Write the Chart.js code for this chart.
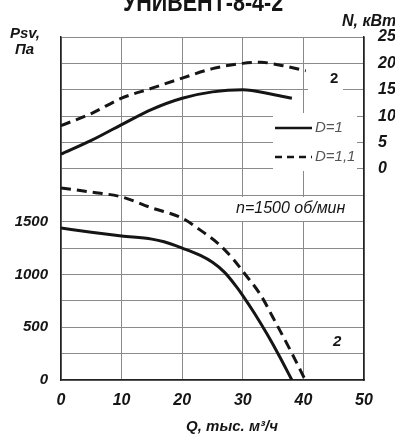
<!DOCTYPE html>
<html>
<head>
<meta charset="utf-8">
<script src="https://cdn.jsdelivr.net/npm/chart.js@4.4.1/dist/chart.umd.min.js"></script>
<style>
  html, body { margin: 0; background: #fff; }
  canvas { display: block; }
</style>
</head>
<body>
<canvas id="chart" width="395" height="435"></canvas>
<script>
'use strict';

// ── Data ──────────────────────────────────────────────────────────────
// Q in thousand m³/h
const powerQ_D1  = [0, 5, 10, 15, 20, 25, 30, 35, 38.1];
const powerN_D1  = [2.8, 5.4, 8.4, 11.3, 13.4, 14.6, 15.0, 14.1, 13.4];

const powerQ_D11 = [0, 5, 10, 15, 20, 25, 30, 33, 36, 40.4];
const powerN_D11 = [8.2, 10.5, 13.4, 15.3, 17.2, 19.0, 20.0, 20.2, 19.7, 18.6];

const pressQ_D1  = [0, 5, 10, 15, 17, 20, 23, 25, 27, 29, 30, 32, 34, 36, 38.1];
const pressP_D1  = [1440, 1400, 1365, 1335, 1310, 1250, 1180, 1115, 1020, 880, 800, 625, 435, 230, 0];

const pressQ_D11 = [0, 5, 10, 15, 20, 23, 26, 28.5, 30, 33, 35, 38, 40.3];
const pressP_D11 = [1820, 1780, 1735, 1630, 1534, 1420, 1290, 1140, 1030, 800, 590, 265, 0];

const xTicks = [0, 10, 20, 30, 40, 50];
const pTickLabels = [0, 500, 1000, 1500];
const nTickLabels = [0, 5, 10, 15, 20, 25];

const pts = (xs, ys) => xs.map((x, i) => ({ x, y: ys[i] }));

const INK = '#151515';
const GRID = '#8a8a8a';
const TICK_FONT = { family: 'Liberation Sans', size: 15, style: 'italic', weight: 'bold' };

// ── Labels, legend and white patches behind them ──────────────────────
const annotations = {
  id: 'annotations',
  beforeDatasetsDraw(chart) {
    const ctx = chart.ctx;
    ctx.save();
    ctx.fillStyle = '#fff';
    ctx.fillRect(273, 113, 84, 58);   // legend
    ctx.fillRect(308, 70, 35, 26);    // "2" upper
    ctx.fillRect(230, 197, 132, 24);  // n=1500
    ctx.restore();
  },
  afterDraw(chart) {
    const ctx = chart.ctx;
    ctx.save();
    ctx.fillStyle = INK;

    // title (top cut off in the reference), condensed heavy face
    ctx.save();
    ctx.translate(203, 11);
    ctx.scale(0.86, 1);
    ctx.textAlign = 'center';
    ctx.textBaseline = 'alphabetic';
    ctx.font = 'bold 25px "Liberation Sans"';
    ctx.fillText('УНИВЕНТ-8-4-2', 0, 0);
    ctx.restore();

    ctx.textBaseline = 'middle';
    ctx.textAlign = 'left';
    ctx.font = 'italic bold 15px "Liberation Sans"';
    ctx.fillText('Psv,', 10, 34);
    ctx.fillText('Па', 15, 50);
    ctx.font = 'italic bold 16px "Liberation Sans"';
    ctx.fillText('N, кВт', 342, 22);

    ctx.font = 'bold 15px "Liberation Sans"';
    ctx.fillText('2', 330, 79);
    ctx.font = 'italic bold 15px "Liberation Sans"';
    ctx.fillText('2', 333, 342);

    ctx.font = 'italic 16px "Liberation Sans"';
    ctx.fillText('n=1500 об/мин', 236, 209);

    ctx.textAlign = 'center';
    ctx.font = 'italic bold 15px "Liberation Sans"';
    ctx.fillText('Q, тыс. м³/ч', 232, 427);

    // legend
    ctx.strokeStyle = INK;
    ctx.lineWidth = 2.5;
    ctx.beginPath();
    ctx.moveTo(275, 128); ctx.lineTo(312, 128);
    ctx.stroke();
    ctx.setLineDash([7, 5]);
    ctx.beginPath();
    ctx.moveTo(275, 157); ctx.lineTo(312, 157);
    ctx.stroke();
    ctx.setLineDash([]);
    ctx.fillStyle = '#555';
    ctx.textAlign = 'left';
    ctx.font = 'italic 15px "Liberation Sans"';
    ctx.fillText('D=1', 315, 128);
    ctx.fillText('D=1,1', 315, 157);
    ctx.restore();
  }
};

const lineStyle = {
  borderColor: INK,
  borderWidth: 3,
  pointRadius: 0,
  fill: false,
  cubicInterpolationMode: 'monotone',
};

new Chart(document.getElementById('chart'), {
  type: 'line',
  data: {
    datasets: [
      { ...lineStyle, label: 'N D=1',   data: pts(powerQ_D1, powerN_D1),   yAxisID: 'yN' },
      { ...lineStyle, label: 'N D=1,1', data: pts(powerQ_D11, powerN_D11), yAxisID: 'yN', borderDash: [10, 6] },
      { ...lineStyle, label: 'P D=1',   data: pts(pressQ_D1, pressP_D1),   yAxisID: 'yP' },
      { ...lineStyle, label: 'P D=1,1', data: pts(pressQ_D11, pressP_D11), yAxisID: 'yP', borderDash: [10, 6] },
    ],
  },
  options: {
    responsive: false,
    animation: false,
    layout: { padding: { top: 37, left: 12, right: 0, bottom: 0 } },
    plugins: { legend: { display: false }, tooltip: { enabled: false } },
    scales: {
      x: {
        type: 'linear', min: 0, max: 50,
        afterBuildTicks: axis => { axis.ticks = xTicks.map(v => ({ value: v })); },
        afterFit: axis => { axis.height = 55; },
        grid: { color: GRID, lineWidth: 1, drawTicks: false },
        border: { color: '#222', width: 1.5 },
        ticks: { color: INK, font: { ...TICK_FONT, size: 16 }, padding: 11 },
      },
      yP: {
        position: 'left', min: 0, max: 3250,
        afterFit: axis => { axis.width = 49; },
        grid: { color: GRID, lineWidth: 1, drawTicks: false },
        border: { color: '#222', width: 1.5 },
        ticks: {
          stepSize: 250, color: INK, font: TICK_FONT, padding: 13,
          callback: v => (pTickLabels.includes(v) ? v : ''),
        },
      },
      yN: {
        position: 'right', min: -40, max: 25,
        afterFit: axis => { axis.width = 31; },
        grid: { display: false, drawTicks: false },
        border: { color: '#222', width: 1.5 },
        ticks: {
          stepSize: 5, color: INK, font: { ...TICK_FONT, size: 16 }, padding: 14,
          callback: v => (nTickLabels.includes(v) ? v : ''),
        },
      },
    },
  },
  plugins: [annotations],
});
</script>
</body>
</html>
